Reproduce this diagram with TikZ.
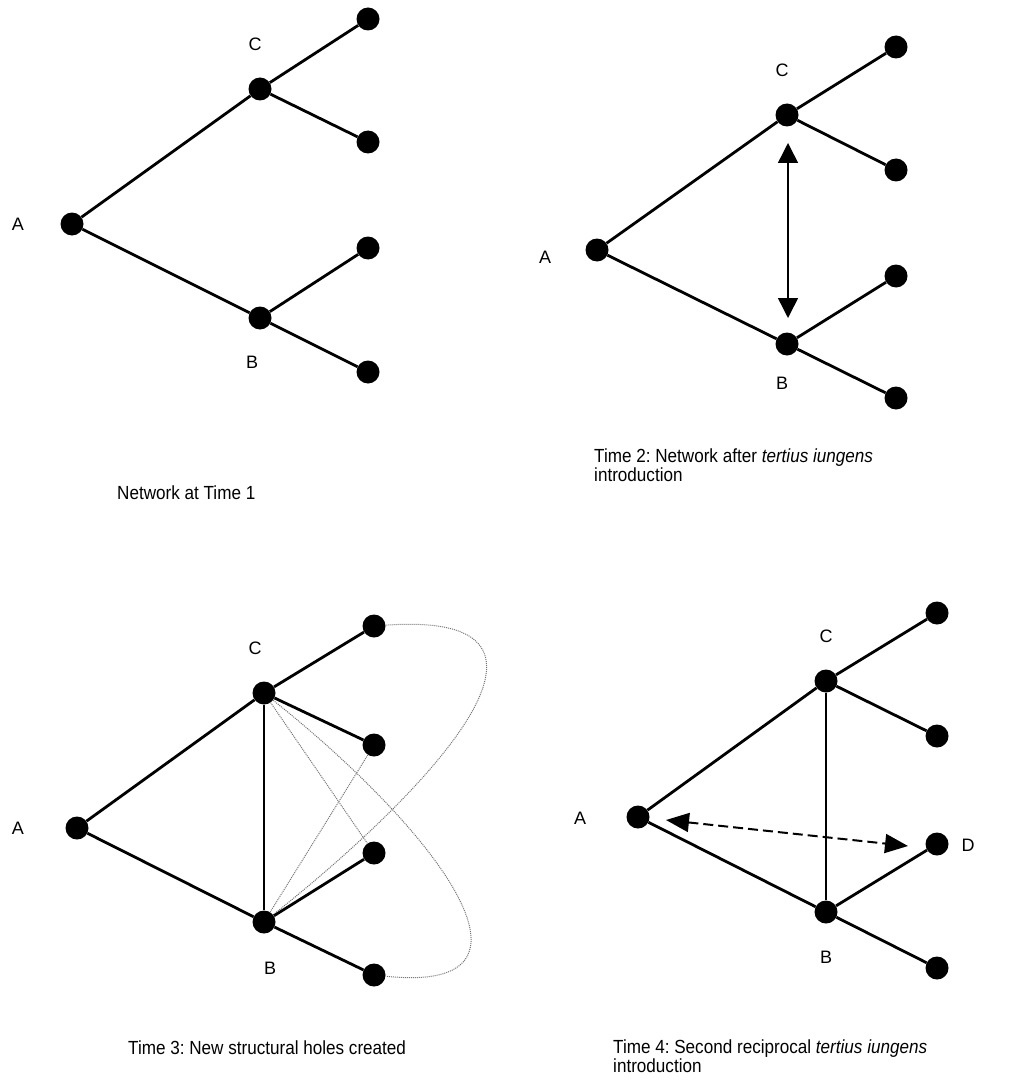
\documentclass[tikz,border=0pt]{standalone}
\usepackage{fontspec}
\setmainfont{Liberation Sans}
\newfontfamily\capfont[FakeStretch=0.9]{Liberation Sans}
\usetikzlibrary{arrows.meta}
\frenchspacing

\begin{document}
\begin{tikzpicture}[
    x=1pt, y=-1pt,
    dot/.style={circle, fill=black, minimum size=23pt, inner sep=0pt},
    tie/.style={line width=2.8pt},
    thin tie/.style={line width=2pt},
    hole/.style={line width=1pt, densely dotted, black!55},
    lab/.style={font=\fontsize{18}{18}\selectfont, inner sep=0pt},
    caption/.style={font=\capfont\fontsize{19}{19}\selectfont, align=left, inner sep=0pt},
    twoway/.style={{Triangle[length=20pt,width=20pt]}-{Triangle[length=20pt,width=20pt]}, line width=1.5pt},
    dashway/.style={{Triangle[length=23pt,width=19pt]}-{Triangle[length=23pt,width=19pt]}, line width=2pt, dash pattern=on 10pt off 5pt}
]
    \useasboundingbox (0,0) rectangle (1014,1086);

    % Time 1
    \node[dot] (a1) at (72,224) {};
    \node[dot] (c1) at (260,89) {};
    \node[dot] (b1) at (260,318) {};
    \node[dot] (c1u) at (368,19) {};
    \node[dot] (c1d) at (368,142) {};
    \node[dot] (b1u) at (368,248) {};
    \node[dot] (b1d) at (368,372) {};
    \node[lab] (la1) at (18,224) {A};
    \node[lab] (lc1) at (255,44) {C};
    \node[lab] (lb1) at (252,362) {B};
    \draw[tie] (a1) -- (c1);
    \draw[tie] (a1) -- (b1);
    \draw[tie] (c1) -- (c1u);
    \draw[tie] (c1) -- (c1d);
    \draw[tie] (b1) -- (b1u);
    \draw[tie] (b1) -- (b1d);
    \node[caption, anchor=west] (t1) at (117,493) {Network at Time 1};

    % Time 2
    \node[dot] (a2) at (597,250) {};
    \node[dot] (c2) at (787,115) {};
    \node[dot] (b2) at (787,344) {};
    \node[dot] (c2u) at (896,47) {};
    \node[dot] (c2d) at (896,170) {};
    \node[dot] (b2u) at (896,276) {};
    \node[dot] (b2d) at (896,398) {};
    \node[lab] (la2) at (545,257) {A};
    \node[lab] (lc2) at (782,70) {C};
    \node[lab] (lb2) at (782,383) {B};
    \draw[tie] (a2) -- (c2);
    \draw[tie] (a2) -- (b2);
    \draw[tie] (c2) -- (c2u);
    \draw[tie] (c2) -- (c2d);
    \draw[tie] (b2) -- (b2u);
    \draw[tie] (b2) -- (b2d);
    \coordinate (up2) at (788,143);
    \coordinate (dn2) at (788,318);
    \draw[twoway] (up2) -- (dn2);
    \node[caption, anchor=north west] (t2) at (594,449)
        {Time 2: Network after \textit{tertius iungens}\\introduction};

    % Time 3
    \node[dot] (a3) at (77,828) {};
    \node[dot] (c3) at (264,693) {};
    \node[dot] (b3) at (264,922) {};
    \node[dot] (c3u) at (374,626) {};
    \node[dot] (c3d) at (374,745) {};
    \node[dot] (b3u) at (374,853) {};
    \node[dot] (b3d) at (374,975) {};
    \node[lab] (la3) at (18,828) {A};
    \node[lab] (lc3) at (255,648) {C};
    \node[lab] (lb3) at (270,968) {B};
    \draw[hole] (c3) -- (b3u);
    \draw[hole] (b3) -- (c3d);
    \draw[hole] (b3) .. controls (430,790) and (600,610) .. (c3u);
    \draw[hole] (c3) .. controls (430,825) and (565,995) .. (b3d);
    \draw[tie] (a3) -- (c3);
    \draw[tie] (a3) -- (b3);
    \draw[tie] (c3) -- (b3);
    \draw[tie] (c3) -- (c3u);
    \draw[tie] (c3) -- (c3d);
    \draw[tie] (b3) -- (b3u);
    \draw[tie] (b3) -- (b3d);
    \node[caption, anchor=west] (t3) at (128,1048) {Time 3: New structural holes created};

    % Time 4
    \node[dot] (a4) at (638,817) {};
    \node[dot] (c4) at (826,681) {};
    \node[dot] (b4) at (826,912) {};
    \node[dot] (c4u) at (937,613) {};
    \node[dot] (c4d) at (937,736) {};
    \node[dot] (d4) at (937,844) {};
    \node[dot] (b4d) at (937,968) {};
    \node[lab] (la4) at (580,818) {A};
    \node[lab] (lc4) at (826,636) {C};
    \node[lab] (lb4) at (826,957) {B};
    \node[lab] (ld4) at (968,845) {D};
    \draw[tie] (a4) -- (c4);
    \draw[tie] (a4) -- (b4);
    \draw[thin tie] (c4) -- (b4);
    \draw[tie] (c4) -- (c4u);
    \draw[tie] (c4) -- (c4d);
    \draw[tie] (b4) -- (d4);
    \draw[tie] (b4) -- (b4d);
    \coordinate (lt4) at (666,820);
    \coordinate (rt4) at (908,846);
    \draw[dashway] (lt4) -- (rt4);
    \node[caption, anchor=north west] (t4) at (613,1040)
        {Time 4: Second reciprocal \textit{tertius iungens}\\introduction};
\end{tikzpicture}
\end{document}
